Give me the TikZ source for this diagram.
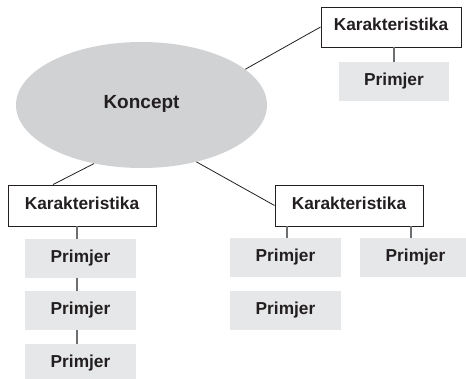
\documentclass[tikz,border=0pt]{standalone}
\usepackage{fontspec}
\setmainfont{Liberation Sans}
\usetikzlibrary{shapes.geometric}
\definecolor{ellgray}{HTML}{D1D2D4}
\definecolor{boxgray}{HTML}{E6E7E8}
\definecolor{ink}{HTML}{231F20}
\definecolor{linegray}{HTML}{6D6E70}
\begin{document}
\begin{tikzpicture}[x=1pt,y=-1pt,
  lbl/.style={font=\bfseries\fontsize{17.3}{20}\selectfont, text=ink, text height=0.716em, text depth=0pt, inner sep=0pt},
  kar/.style={lbl, draw=ink, line width=0.9pt, fill=white, minimum height=40pt},
  prim/.style={lbl, fill=boxgray, minimum width=111pt, minimum height=39pt},
  conn/.style={draw=ink, line width=0.8pt},
  vconn/.style={draw=linegray, line width=1.1pt}]
\clip (0,0) rectangle (466,378);
\node[ellipse, fill=ellgray, minimum width=251pt, minimum height=126pt, inner sep=0pt,
      font=\bfseries\fontsize{19}{22}\selectfont, text=ink, text height=0.716em, text depth=0pt] (k) at (141.5,105) {Koncept};
% characteristic boxes
\node[kar, minimum width=140pt] (t) at (391,27) {Karakteristika};
\node[kar, minimum width=148pt, minimum height=41pt] (l) at (82,205.5) {Karakteristika};
\node[kar, minimum width=148pt, minimum height=41pt] (r) at (349,205.5) {Karakteristika};
% examples
\node[prim, minimum width=110pt] (tp) at (394,81.5) {Primjer};
\node[prim] (lp1) at (80.5,258.5) {Primjer};
\node[prim] (lp2) at (80.5,310.5) {Primjer};
\node[prim] (lp3) at (80.5,363.5) {Primjer};
\node[prim] (rp1) at (285.5,257.5) {Primjer};
\node[prim] (rp2) at (285.5,310.5) {Primjer};
\node[prim] (rp3) at (415.5,257.5) {Primjer};
% connectors from concept
\draw[conn] (k.19.8) -- (t.west);
\draw[conn] (k.231.8) -- ([xshift=-29pt]l.north);
\draw[conn] (k.314.8) -- (r.west);
% vertical connectors
\draw[vconn] (tp.north) -- (tp.north |- t.south);
\coordinate (lc) at ([xshift=-3.5pt]lp1.north);
\draw[vconn] (lc) -- (lc |- l.south);
\draw[vconn] (lp1.south -| lc) -- (lp2.north -| lc);
\draw[vconn] (lp2.south -| lc) -- (lp3.north -| lc);
\coordinate (rc1) at ([xshift=1.5pt]rp1.north);
\draw[vconn] (rc1) -- (rc1 |- r.south);
\coordinate (rc3) at ([xshift=-4.5pt]rp3.north);
\draw[vconn] (rc3) -- (rc3 |- r.south);
\end{tikzpicture}
\end{document}
